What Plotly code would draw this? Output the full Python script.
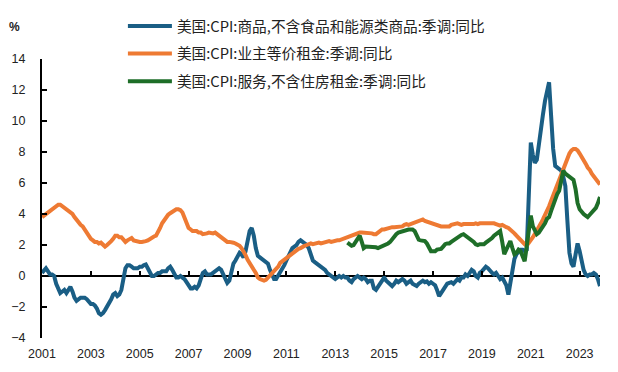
import pandas as pd
import plotly.graph_objects as go

# ---- data (monthly) ----
start_month = "2001-01-01"
goods_by_year = [
    [0.2, 0.4, 0.5, 0.3, 0.1, 0.1, 0.0, -0.5, -0.9, -1.1, -1.0, -0.9],      # 2001
    [-1.1, -0.9, -0.7, -1.0, -1.4, -1.6, -1.5, -1.4, -1.4, -1.4, -1.5, -1.7],  # 2002
    [-1.8, -1.8, -1.9, -2.1, -2.4, -2.5, -2.4, -2.2, -2.0, -1.8, -1.5, -1.2],  # 2003
    [-1.1, -1.3, -1.2, -0.9, -0.3, 0.5, 0.7, 0.7, 0.6, 0.5, 0.5, 0.5],       # 2004
    [0.6, 0.6, 0.7, 0.75, 0.5, 0.2, 0.0, 0.0, 0.1, 0.2, 0.2, 0.3],          # 2005
    [0.3, 0.3, 0.5, 0.6, 0.4, 0.1, -0.1, -0.1, 0.0, -0.1, -0.2, -0.4],       # 2006
    [-0.6, -0.8, -0.8, -0.7, -0.8, -0.6, -0.2, 0.2, 0.3, 0.1, 0.1, 0.1],     # 2007
    [0.2, 0.3, 0.4, 0.5, 0.4, 0.1, -0.2, -0.45, -0.3, 0.3, 0.8, 1.0],        # 2008
    [1.3, 1.5, 1.4, 1.2, 1.6, 2.4, 2.9, 3.1, 2.6, 1.8, 1.3, 1.2],            # 2009
    [1.1, 1.0, 0.9, 0.8, 0.4, 0.0, -0.2, -0.2, 0.0, 0.3, 0.5, 0.7],          # 2010
    [1.0, 1.3, 1.6, 1.8, 1.9, 2.0, 2.2, 2.3, 2.2, 2.1, 2.0, 1.8],            # 2011
    [1.3, 1.0, 0.9, 0.8, 0.7, 0.6, 0.5, 0.4, 0.2, 0.1, 0.0, -0.1],           # 2012
    [-0.2, -0.1, 0.0, -0.1, 0.0, -0.1, -0.1, -0.3, -0.4, -0.2, -0.1, 0.0],   # 2013
    [-0.1, -0.2, -0.1, -0.2, -0.4, -0.3, -0.3, -0.8, -0.9, -0.7, -0.4, -0.2],  # 2014
    [-0.1, -0.3, -0.4, -0.5, -0.65, -0.5, -0.3, -0.4, -0.3, -0.2, -0.3, -0.5],  # 2015
    [-0.4, -0.3, -0.5, -0.6, -0.65, -0.5, -0.4, -0.3, -0.4, -0.35, -0.5, -0.4],  # 2016
    [-0.5, -0.6, -0.9, -1.3, -1.1, -0.9, -0.7, -0.5, -0.45, -0.4, -0.5, -0.3],  # 2017
    [-0.2, -0.3, -0.1, -0.1, 0.1, 0.0, 0.2, 0.4, 0.3, 0.0, -0.1, 0.2],       # 2018
    [0.3, 0.5, 0.6, 0.5, 0.3, 0.2, 0.1, 0.2, 0.0, -0.2, -0.1, -0.3],         # 2019
    [-0.6, -1.2, -0.5, 0.5, 1.1, 1.4, 1.6, 1.7, 1.7, 1.6, 1.7, 5.0],         # 2020
    [8.6, 7.8, 7.3, 7.5, 8.6, 9.5, 10.4, 11.3, 12.1, 12.5, 10.3, 8.2],      # 2021
    [7.1, 7.0, 6.9, 6.8, 6.4, 5.8, 3.6, 1.5, 0.8, 0.6, 1.4, 2.1],           # 2022
    [1.6, 0.9, 0.4, 0.1, 0.0, 0.1, 0.1, 0.2, 0.1, -0.2, -0.65],             # 2023
]
oer_by_year = [
    [3.8, 3.9, 4.0, 4.1, 4.2, 4.3, 4.4, 4.5, 4.6, 4.6, 4.5, 4.4],
    [4.3, 4.2, 4.1, 4.0, 3.8, 3.6, 3.5, 3.3, 3.2, 3.0, 2.8, 2.6],
    [2.4, 2.3, 2.2, 2.2, 2.1, 2.15, 2.0, 1.9, 2.0, 2.1, 2.25, 2.4],
    [2.6, 2.6, 2.5, 2.5, 2.3, 2.2, 2.3, 2.4, 2.45, 2.3, 2.25, 2.2],
    [2.2, 2.2, 2.2, 2.25, 2.3, 2.4, 2.5, 2.55, 2.6, 2.8, 3.1, 3.4],
    [3.6, 3.8, 3.95, 4.05, 4.15, 4.25, 4.3, 4.3, 4.25, 4.1, 3.8, 3.4],
    [3.1, 3.0, 2.9, 2.9, 2.9, 2.8, 2.8, 2.7, 2.7, 2.75, 2.8, 2.75],
    [2.75, 2.8, 2.7, 2.6, 2.45, 2.35, 2.25, 2.2, 2.2, 2.2, 2.15, 2.1],
    [2.05, 1.95, 1.8, 1.6, 1.35, 1.05, 0.8, 0.6, 0.4, 0.2, -0.1, -0.2],
    [-0.25, -0.3, -0.25, -0.1, 0.0, 0.15, 0.3, 0.45, 0.6, 0.85, 0.95, 1.05],
    [1.2, 1.3, 1.4, 1.5, 1.6, 1.7, 1.75, 1.8, 1.9, 1.95, 2.0, 2.05],
    [2.1, 2.05, 2.1, 2.1, 2.15, 2.1, 2.15, 2.2, 2.2, 2.25, 2.2, 2.25],
    [2.25, 2.3, 2.3, 2.35, 2.4, 2.5, 2.55, 2.6, 2.65, 2.7, 2.7, 2.75],
    [2.8, 2.8, 2.8, 2.75, 2.8, 2.8, 2.75, 2.7, 2.7, 2.8, 2.9, 3.0],
    [3.0, 3.05, 3.1, 3.1, 3.15, 3.15, 3.15, 3.2, 3.2, 3.2, 3.3, 3.35],
    [3.3, 3.35, 3.4, 3.45, 3.5, 3.6, 3.65, 3.65, 3.55, 3.5, 3.45, 3.45],
    [3.4, 3.35, 3.3, 3.25, 3.2, 3.2, 3.2, 3.25, 3.2, 3.3, 3.35, 3.4],
    [3.4, 3.35, 3.3, 3.35, 3.35, 3.35, 3.3, 3.35, 3.35, 3.4, 3.35, 3.4],
    [3.4, 3.45, 3.4, 3.45, 3.45, 3.45, 3.4, 3.35, 3.3, 3.25, 3.3, 3.2],
    [3.15, 3.1, 3.0, 2.9, 2.75, 2.6, 2.45, 2.3, 2.15, 2.05, 1.95, 2.1],
    [2.3, 2.5, 2.7, 2.9, 3.1, 3.4, 3.65, 3.9, 4.2, 4.5, 4.85, 5.2],
    [5.4, 5.75, 6.1, 6.5, 6.9, 7.25, 7.6, 7.9, 8.1, 8.2, 8.2, 8.1],
    [7.9, 7.7, 7.5, 7.25, 7.0, 6.85, 6.6, 6.4, 6.2, 6.0, 5.9],
]
services_start = "2013-07-01"
services_by_year = [
    [2.15, 2.05, 1.95, 2.0, 2.2, 2.5],                                  # 2013 Jul-Dec
    [2.6, 2.2, 1.8, 1.9, 1.9, 1.85, 1.9, 1.9, 1.85, 1.8, 1.85, 1.9],
    [2.0, 2.05, 2.1, 2.2, 2.4, 2.6, 2.7, 2.8, 2.85, 2.9, 2.95, 3.0],
    [3.0, 3.0, 3.0, 2.9, 2.6, 2.35, 2.3, 2.3, 2.25, 2.1, 1.8, 1.6],
    [1.6, 1.6, 1.7, 1.7, 1.75, 1.9, 2.05, 2.1, 2.1, 2.2, 2.3, 2.35],
    [2.45, 2.55, 2.65, 2.7, 2.6, 2.5, 2.45, 2.35, 2.2, 2.05, 2.0, 2.05],
    [2.05, 2.05, 2.15, 2.25, 2.3, 2.45, 2.6, 2.7, 2.8, 2.9, 2.2, 1.4],
    [1.7, 2.0, 2.25, 1.8, 1.4, 1.5, 1.7, 1.6, 1.2, 0.95, 1.9, 2.9],
    [3.9, 3.2, 2.9, 2.7, 2.8, 3.0, 3.1, 3.4, 3.7, 3.8, 4.2, 4.6],
    [5.05, 5.3, 5.5, 6.2, 6.8, 6.6, 6.5, 6.45, 6.3, 6.2, 5.6, 4.7],
    [4.3, 4.1, 4.0, 3.9, 3.8, 3.95, 4.1, 4.2, 4.4, 4.7, 5.1],
]
series_names = [
    "美国:CPI:商品,不含食品和能源类商品:季调:同比",
    "美国:CPI:业主等价租金:季调:同比",
    "美国:CPI:服务,不含住房租金:季调:同比",
]
series_colors = ["#1a5e85", "#ee7a33", "#1e6e28"]
y_ticks = [-4, -2, 0, 2, 4, 6, 8, 10, 12, 14]


def flatten(rows):
    return [v for row in rows for v in row]


goods = flatten(goods_by_year)
oer = flatten(oer_by_year)
services = flatten(services_by_year)
dates_main = pd.date_range(start_month, periods=len(goods), freq="MS")
dates_services = pd.date_range(services_start, periods=len(services), freq="MS")
x_range = [dates_main[0], dates_main[-1]]

fig = go.Figure()
for i, (xs, ys) in enumerate([(dates_main, goods), (dates_main, oer), (dates_services, services)]):
    fig.add_trace(go.Scatter(
        x=xs, y=ys, mode="lines", name=series_names[i],
        line=dict(color=series_colors[i], width=4),
        legendgroup=f"g{i}",
    ))
# helper trace so the zero-crossing axis (ticks) is drawn
fig.add_trace(go.Scatter(x=dates_main[:1], y=[None], xaxis="x2", showlegend=False,
                         hoverinfo="skip"))

tickfont = dict(family="Liberation Sans, Arial, sans-serif", size=12.5, color="#222")
fig.update_layout(
    width=610, height=364,
    margin=dict(l=34, r=18, t=51, b=34, autoexpand=False),
    paper_bgcolor="white", plot_bgcolor="white",
    showlegend=True,
    legend=dict(
        x=0.145, y=1.176, xanchor="left", yanchor="top",
        font=dict(family="Noto Sans CJK SC, sans-serif", size=14.7, color="#222"),
        tracegroupgap=5.5, itemwidth=44, bgcolor="rgba(0,0,0,0)",
    ),
    xaxis=dict(
        type="date", range=x_range, tick0="2001-01-01", dtick="M24", tickformat="%Y",
        showline=False, ticks="", showgrid=False, zeroline=False, tickfont=tickfont,
        ticklabelstandoff=6,
    ),
    xaxis2=dict(
        type="date", range=x_range, tick0="2001-01-01", dtick="M24",
        overlaying="x", anchor="free", position=4 / 18, side="bottom",
        ticks="inside", ticklen=5, tickwidth=2, tickcolor="black",
        showticklabels=False, showline=False, showgrid=False, zeroline=False,
    ),
    yaxis=dict(
        range=[-4, 14], tickvals=y_ticks, showgrid=False,
        showline=True, linecolor="black", linewidth=2,
        ticks="inside", ticklen=5, tickwidth=2, tickcolor="black",
        zeroline=True, zerolinecolor="black", zerolinewidth=2,
        tickfont=tickfont, ticklabelstandoff=12,
    ),
    annotations=[dict(
        text="<b>%</b>", xref="paper", yref="paper", x=-0.05, y=1.115,
        xanchor="center", yanchor="middle", showarrow=False,
        font=dict(family="Liberation Sans, Arial, sans-serif", size=12, color="#222"),
    )],
)
fig.write_html("out.html")
